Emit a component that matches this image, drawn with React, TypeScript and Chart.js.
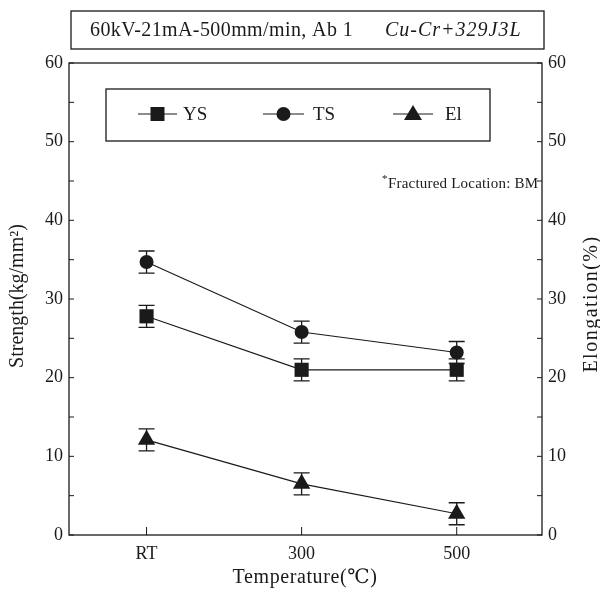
import { useEffect, useRef } from "react";
import { Chart, registerables } from "chart.js";

Chart.register(...registerables);

const categories = ["RT", "300", "500"];
const ysValues = [27.8, 21.0, 21.0];
const ysErrors = [1.4, 1.4, 1.4];
const tsValues = [34.7, 25.8, 23.2];
const tsErrors = [1.4, 1.4, 1.4];
const elValues = [12.1, 6.5, 2.7];
const elErrors = [1.4, 1.4, 1.4];
const minorTicks = [0, 5, 10, 15, 20, 25, 30, 35, 40, 45, 50, 55, 60];
const titleLeft = "60kV-21mA-500mm/min, Ab 1";
const titleRight = "Cu-Cr+329J3L";
const noteText = "Fractured Location: BM";
const yTitle = "Strength(kg/mm\u00B2)";
const y1Title = "Elongation(%)";
const xTitle = "Temperature(\u2103)";
const seriesNames = ["YS", "TS", "El"];

const INK = "#1a1a1a";
const SERIF = "'Liberation Serif', 'DejaVu Serif', serif";

function drawMarker(ctx: CanvasRenderingContext2D, style: string, x: number, y: number) {
  ctx.save();
  ctx.fillStyle = INK;
  ctx.beginPath();
  if (style === "rect") {
    ctx.rect(x - 7, y - 7, 14, 14);
  } else if (style === "circle") {
    ctx.arc(x, y, 7, 0, Math.PI * 2);
  } else {
    ctx.moveTo(x, y - 9);
    ctx.lineTo(x + 9, y + 6);
    ctx.lineTo(x - 9, y + 6);
    ctx.closePath();
  }
  ctx.fill();
  ctx.restore();
}

const decorPlugin = {
  id: "decor",
  beforeDatasetsDraw(chart: any) {
    const ctx: CanvasRenderingContext2D = chart.ctx;
    const { left, right, top, bottom } = chart.chartArea;
    const y = chart.scales.y;
    const y1 = chart.scales.y1;
    const x = chart.scales.x;
    ctx.save();
    ctx.strokeStyle = INK;
    ctx.lineWidth = 1.3;
    ctx.strokeRect(left, top, right - left, bottom - top);
    ctx.lineWidth = 1;
    ctx.beginPath();
    minorTicks.forEach((v) => {
      const py = y.getPixelForValue(v);
      ctx.moveTo(left, py);
      ctx.lineTo(left + 5, py);
      const py1 = y1.getPixelForValue(v);
      ctx.moveTo(right, py1);
      ctx.lineTo(right - 5, py1);
    });
    categories.forEach((_, i) => {
      const px = x.getPixelForValue(i);
      ctx.moveTo(px, bottom);
      ctx.lineTo(px, bottom - 8);
    });
    ctx.stroke();

    const groups = [
      { vals: ysValues, errs: ysErrors, scale: y },
      { vals: tsValues, errs: tsErrors, scale: y },
      { vals: elValues, errs: elErrors, scale: y1 },
    ];
    ctx.lineWidth = 1.3;
    ctx.beginPath();
    groups.forEach((g) => {
      g.vals.forEach((v, i) => {
        const px = x.getPixelForValue(i);
        const pt = g.scale.getPixelForValue(v + g.errs[i]);
        const pb = g.scale.getPixelForValue(v - g.errs[i]);
        ctx.moveTo(px, pt);
        ctx.lineTo(px, pb);
        ctx.moveTo(px - 8, pt);
        ctx.lineTo(px + 8, pt);
        ctx.moveTo(px - 8, pb);
        ctx.lineTo(px + 8, pb);
      });
    });
    ctx.stroke();
    ctx.restore();
  },
  afterDraw(chart: any) {
    const ctx: CanvasRenderingContext2D = chart.ctx;
    ctx.save();
    ctx.fillStyle = INK;
    ctx.strokeStyle = INK;

    ctx.lineWidth = 1.3;
    ctx.strokeRect(71, 11, 473, 38);
    ctx.textBaseline = "middle";
    ctx.textAlign = "left";
    ctx.save();
    (ctx as any).letterSpacing = "0.4px";
    ctx.font = `20px ${SERIF}`;
    ctx.fillText(titleLeft, 90, 31);
    (ctx as any).letterSpacing = "1px";
    ctx.font = `italic 20px ${SERIF}`;
    ctx.fillText(titleRight, 385, 31);
    ctx.restore();

    ctx.strokeRect(106, 89, 384, 52);
    const legendItems = [
      { name: seriesNames[0], style: "rect", x0: 138, x1: 177, text: 183 },
      { name: seriesNames[1], style: "circle", x0: 263, x1: 304, text: 313 },
      { name: seriesNames[2], style: "triangle", x0: 393, x1: 433, text: 445 },
    ];
    ctx.font = `19px ${SERIF}`;
    legendItems.forEach((it) => {
      ctx.lineWidth = 1.2;
      ctx.beginPath();
      ctx.moveTo(it.x0, 114);
      ctx.lineTo(it.x1, 114);
      ctx.stroke();
      drawMarker(ctx, it.style, (it.x0 + it.x1) / 2, 114);
      ctx.fillText(it.name, it.text, 115);
    });

    ctx.font = `11px ${SERIF}`;
    ctx.fillText("*", 382, 179);
    ctx.save();
    (ctx as any).letterSpacing = "0.2px";
    ctx.font = `15px ${SERIF}`;
    ctx.fillText(noteText, 388, 184);
    ctx.restore();

    ctx.textAlign = "center";
    ctx.save();
    ctx.translate(18, 296);
    ctx.rotate(-Math.PI / 2);
    ctx.font = `20px ${SERIF}`;
    ctx.fillText(yTitle, 0, 0);
    ctx.restore();

    ctx.save();
    ctx.translate(592, 304);
    ctx.rotate(-Math.PI / 2);
    ctx.font = `20px ${SERIF}`;
    (ctx as any).letterSpacing = "1.5px";
    ctx.fillText(y1Title, 0, 0);
    ctx.restore();

    ctx.save();
    (ctx as any).letterSpacing = "0.6px";
    ctx.font = `20px ${SERIF}`;
    ctx.fillText(xTitle, 305, 578);
    ctx.restore();
    ctx.restore();
  },
};

export default function App() {
  const ref = useRef<HTMLCanvasElement>(null);
  useEffect(() => {
    if (!ref.current) return;
    const mk = (vals: number[]) => vals.map((v, i) => ({ x: i, y: v }));
    const tickFont = { family: SERIF, size: 18 };
    const chart = new Chart(ref.current, {
      type: "line",
      data: {
        datasets: [
          {
            label: seriesNames[0],
            data: mk(ysValues),
            yAxisID: "y",
            borderColor: INK,
            backgroundColor: INK,
            borderWidth: 1.2,
            pointStyle: "rect",
            pointRadius: 10,
            pointBorderWidth: 0,
          },
          {
            label: seriesNames[1],
            data: mk(tsValues),
            yAxisID: "y",
            borderColor: INK,
            backgroundColor: INK,
            borderWidth: 1.2,
            pointStyle: "circle",
            pointRadius: 7,
            pointBorderWidth: 0,
          },
          {
            label: seriesNames[2],
            data: mk(elValues),
            yAxisID: "y1",
            borderColor: INK,
            backgroundColor: INK,
            borderWidth: 1.2,
            pointStyle: "triangle",
            pointRadius: 10,
            pointBorderWidth: 0,
          },
        ],
      },
      options: {
        animation: false,
        responsive: false,
        layout: { padding: { top: 63, left: 0, right: 0, bottom: 0 } },
        plugins: { legend: { display: false }, tooltip: { enabled: false }, title: { display: false } },
        scales: {
          x: {
            type: "linear",
            min: -0.5,
            max: 2.55,
            grid: { display: false, drawTicks: false },
            border: { display: false },
            afterBuildTicks: (s: any) => {
              s.ticks = categories.map((_, i) => ({ value: i }));
            },
            afterFit: (s: any) => {
              s.height = 55;
            },
            ticks: {
              autoSkip: false,
              maxRotation: 0,
              padding: 8,
              color: INK,
              font: tickFont,
              callback: (v: any) => categories[Number(v)] ?? "",
            },
          },
          y: {
            position: "left",
            min: 0,
            max: 60,
            grid: { display: false, drawTicks: false },
            border: { display: false },
            afterFit: (s: any) => {
              s.width = 69;
            },
            ticks: { stepSize: 10, padding: 6, color: INK, font: tickFont },
          },
          y1: {
            position: "right",
            min: 0,
            max: 60,
            grid: { display: false, drawTicks: false },
            border: { display: false },
            afterFit: (s: any) => {
              s.width = 58;
            },
            ticks: { stepSize: 10, padding: 6, color: INK, font: tickFont },
          },
        },
      } as any,
      plugins: [decorPlugin],
    });
    return () => chart.destroy();
  }, []);
  return (
    <div style={{ position: "absolute", left: 0, top: 0, width: 600, height: 590, background: "#fff" }}>
      <canvas ref={ref} width={600} height={590} />
    </div>
  );
}
